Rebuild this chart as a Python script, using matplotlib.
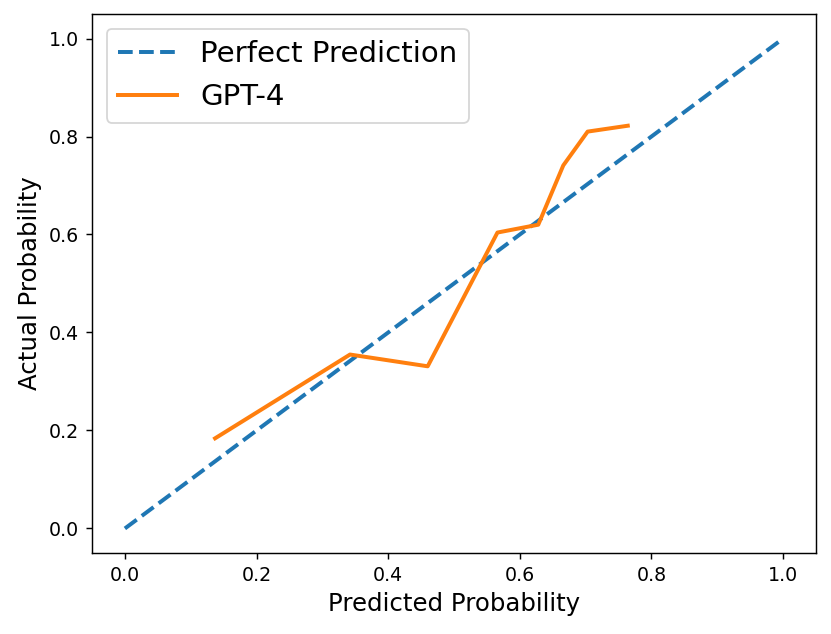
import matplotlib
matplotlib.use('Agg')
import matplotlib.pyplot as plt

# calibration curve
pred_prob = [0.137, 0.342, 0.460, 0.566, 0.628, 0.666, 0.703, 0.764]
actual_prob = [0.184, 0.355, 0.331, 0.604, 0.620, 0.741, 0.810, 0.822]
perfect = [0.0, 1.0]

fig = plt.figure(figsize=(831 / 130, 634 / 130), dpi=130)
ax = fig.add_axes([0.1107, 0.1278, 0.8713, 0.8501])

ax.plot(perfect, perfect, '--', color='#1f77b4', linewidth=2.2, label='Perfect Prediction')
ax.plot(pred_prob, actual_prob, '-', color='#ff7f0e', linewidth=2.2, label='GPT-4')

ax.set_xlabel('Predicted Probability', fontsize=13.5)
ax.set_ylabel('Actual Probability', fontsize=13.5)
ax.tick_params(labelsize=10.5)
ax.legend(fontsize=16.2, loc='upper left')

fig.savefig('out.png', dpi=130)
